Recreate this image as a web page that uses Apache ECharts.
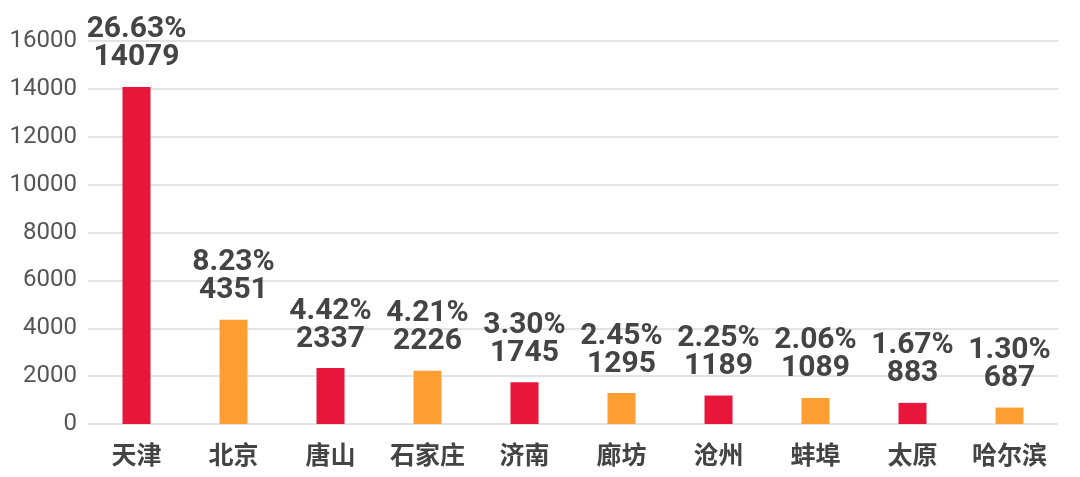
<!DOCTYPE html>
<html><head><meta charset="utf-8">
<script src="https://cdn.jsdelivr.net/npm/echarts@6/dist/echarts.min.js"></script>
<style>html,body{margin:0;padding:0;background:#fff}#c{width:1080px;height:477px}</style>
</head><body><div id="c"></div>
<script>
const categories = ['天津','北京','唐山','石家庄','济南','廊坊','沧州','蚌埠','太原','哈尔滨'];
const values = [14079,4351,2337,2226,1745,1295,1189,1089,883,687];
const percents = ['26.63%','8.23%','4.42%','4.21%','3.30%','2.45%','2.25%','2.06%','1.67%','1.30%'];
const colors = ['#E8163A','#FF9F33'];

const chart = echarts.init(document.getElementById('c'));
chart.setOption({
  animation: false,
  grid: {left: 88, right: 22, top: 41, bottom: 53, containLabel: false},
  xAxis: {
    type: 'category', data: categories,
    axisLine: {show: false}, axisTick: {show: false},
    axisLabel: {interval: 0, color: '#444', fontSize: 25, fontWeight: 'bold', margin: 18, fontFamily: 'Noto Sans CJK SC'}
  },
  yAxis: {
    type: 'value', min: 0, max: 16000, interval: 2000,
    axisLine: {show: false}, axisTick: {show: false},
    axisLabel: {color: '#555', fontSize: 24, margin: 11, fontFamily: 'Roboto', formatter: v => String(v)},
    splitLine: {lineStyle: {color: '#e3e3e3', width: 2}}
  },
  series: [{
    type: 'bar', barWidth: 28,
    data: values.map((v, i) => ({value: v, itemStyle: {color: colors[i % 2]}})),
    label: {
      show: true, position: 'top', distance: 15,
      color: '#444', fontSize: 30, fontWeight: 'bold', lineHeight: 28, fontFamily: 'Roboto',
      formatter: p => percents[p.dataIndex] + '\n' + values[p.dataIndex]
    }
  }]
});
</script></body></html>
